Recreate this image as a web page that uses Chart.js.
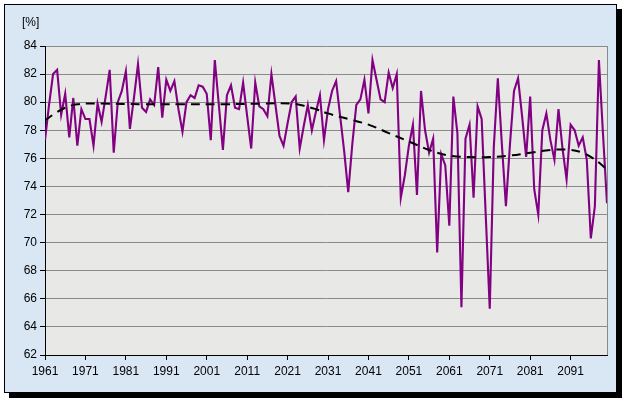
<!DOCTYPE html>
<html>
<head>
<meta charset="utf-8">
<script src="https://cdn.jsdelivr.net/npm/chart.js@4/dist/chart.umd.min.js"></script>
<style>
  html, body { margin: 0; padding: 0; background: #fff; }
  #wrap { width: 627px; height: 403px; position: relative; }
</style>
</head>
<body>
<div id="wrap"><canvas id="chart" width="627" height="403"></canvas></div>
<script>
// yearly values 1961-2100
const firstYear = 1961;
const values = [
    77.3, 79.8, 82.0, 82.3, 79.1, 80.6, 77.5, 80.3, 76.9, 79.5,
    78.8, 78.8, 76.9, 79.9, 78.6, 80.4, 82.3, 76.4, 80.0, 80.8,
    82.2, 78.1, 80.3, 82.7, 79.6, 79.3, 80.2, 79.8, 82.5, 78.9,
    81.6, 80.8, 81.5, 79.5, 77.9, 80.0, 80.5, 80.3, 81.2, 81.1,
    80.6, 77.3, 83.0, 79.8, 76.6, 80.5, 81.2, 79.6, 79.5, 81.4,
    79.0, 76.7, 81.4, 79.7, 79.5, 79.0, 82.0, 79.8, 77.6, 76.9,
    78.5, 80.0, 80.4, 76.7, 78.3, 79.8, 78.0, 79.3, 80.5, 77.3,
    79.5, 80.8, 81.5, 79.0, 76.5, 73.6, 77.0, 79.8, 80.2, 81.6,
    79.2, 83.0, 81.6, 80.2, 80.0, 82.1, 81.0, 82.0, 73.2, 74.8,
    76.9, 78.4, 73.4, 80.8, 78.0, 76.4, 77.4, 69.3, 76.3, 75.5,
    71.2, 80.4, 77.8, 65.4, 77.4, 78.4, 73.2, 79.7, 78.8, 72.0,
    65.3, 76.8, 81.7, 77.0, 72.6, 77.0, 80.8, 81.7, 79.0, 76.1,
    80.4, 73.8, 72.0, 78.0, 79.2, 77.3, 75.9, 79.5, 76.7, 74.5,
    78.4, 78.0, 76.9, 77.5, 75.9, 70.3, 72.6, 83.0, 77.8, 72.8
];
const years = values.map((v, i) => firstYear + i);

// dashed trend line, read at a few points
const trendYears  = [1961, 1964, 1966, 1969, 1975, 1985, 1995, 2005, 2015, 2022, 2025, 2028, 2031, 2036, 2041, 2046, 2051, 2056, 2061, 2066, 2071, 2076, 2081, 2086, 2091, 2094, 2096, 2098, 2100];
const trendValues = [78.7, 79.3, 79.6, 79.85, 79.9, 79.85, 79.85, 79.85, 79.9, 79.9, 79.75, 79.5, 79.2, 78.8, 78.4, 77.8, 77.2, 76.6, 76.2, 76.1, 76.1, 76.2, 76.4, 76.6, 76.6, 76.4, 76.1, 75.7, 75.2];

const xTicks = [1961, 1971, 1981, 1991, 2001, 2011, 2021, 2031, 2041, 2051, 2061, 2071, 2081, 2091];
const yMin = 62, yMax = 84, yStep = 2;
const unitLabel = '[%]';

Chart.defaults.font.family = 'Arial, "Liberation Sans", sans-serif';
Chart.defaults.font.size = 12;
Chart.defaults.color = '#000';

// frame, shadow and plot area fill
const backdrop = {
    id: 'backdrop',
    beforeDraw(chart) {
        const ctx = chart.ctx;
        const a = chart.chartArea;
        ctx.save();
        ctx.fillStyle = '#fff';
        ctx.fillRect(0, 0, chart.width, chart.height);
        ctx.fillStyle = '#000';
        ctx.fillRect(9, 9, 613, 389);
        ctx.fillStyle = '#d9e7f5';
        ctx.fillRect(4, 4, 613, 389);
        ctx.strokeStyle = '#000';
        ctx.lineWidth = 1;
        ctx.strokeRect(4.5, 4.5, 612, 388);
        ctx.fillStyle = '#e8e8e6';
        ctx.fillRect(a.left, a.top, a.right - a.left, a.bottom - a.top);
        ctx.restore();
    },
    beforeDatasetsDraw(chart) {
        const ctx = chart.ctx;
        const a = chart.chartArea;
        ctx.save();
        ctx.strokeStyle = '#8a8a8a';
        ctx.lineWidth = 1;
        ctx.beginPath();
        ctx.moveTo(Math.round(a.right) + 0.5, a.top);
        ctx.lineTo(Math.round(a.right) + 0.5, a.bottom);
        ctx.stroke();
        ctx.fillStyle = '#000';
        ctx.font = '12px Arial, "Liberation Sans", sans-serif';
        ctx.textBaseline = 'alphabetic';
        ctx.fillText(unitLabel, 22, 26);
        ctx.restore();
    }
};

new Chart(document.getElementById('chart'), {
    type: 'line',
    data: {
        datasets: [{
            label: 'Trend',
            data: trendYears.map((y, i) => ({ x: y, y: trendValues[i] })),
            borderColor: '#000',
            borderWidth: 2,
            borderDash: [9, 6],
            pointRadius: 0,
            tension: 0.4,
            order: 0
        }, {
            label: 'Values',
            data: years.map((y, i) => ({ x: y, y: values[i] })),
            borderColor: '#820082',
            borderWidth: 2.1,
            pointRadius: 0,
            tension: 0,
            order: 1
        }]
    },
    options: {
        responsive: false,
        animation: false,
        layout: { padding: { left: 5, right: 20, top: 46, bottom: 18 } },
        plugins: {
            legend: { display: false },
            tooltip: { enabled: false }
        },
        scales: {
            x: {
                type: 'linear',
                min: firstYear,
                max: years[years.length - 1],
                afterBuildTicks: axis => { axis.ticks = xTicks.map(v => ({ value: v })); },
                afterFit: s => { s.height = 30; },
                ticks: { callback: v => String(v), autoSkip: false, maxRotation: 0, padding: 4 },
                grid: { drawOnChartArea: false, color: '#000', tickLength: 5 },
                border: { color: '#000' }
            },
            y: {
                min: yMin,
                max: yMax,
                afterFit: s => { s.width = 40; },
                ticks: { stepSize: yStep, padding: 3 },
                grid: { color: '#8a8a8a', tickColor: '#000', tickLength: 5 },
                border: { color: '#000' }
            }
        }
    },
    plugins: [backdrop]
});
</script>
</body>
</html>
